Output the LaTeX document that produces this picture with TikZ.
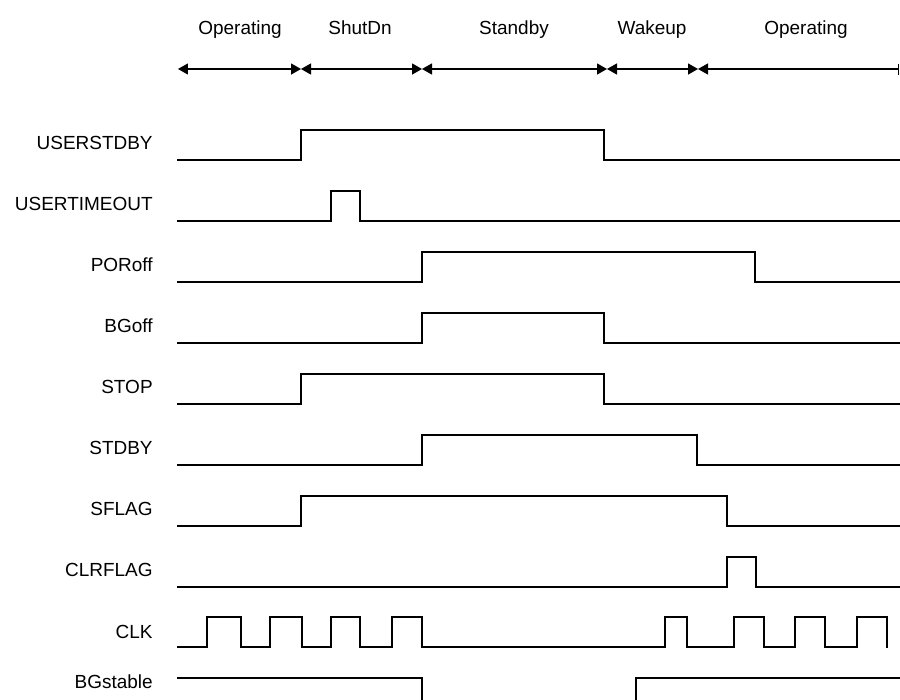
\documentclass[tikz,border=0pt]{standalone}
\usepackage{fontspec}
\setmainfont{Liberation Sans}
\usetikzlibrary{arrows.meta}
\begin{document}
\begin{tikzpicture}[x=0.02cm, y=-0.02cm,
  wave/.style={line width=0.6pt, line join=miter, line cap=rect},
  span/.style={line width=0.75pt, {Triangle[length=0.2cm, width=0.22cm]}-{Triangle[length=0.2cm, width=0.22cm]}},
  spanend/.style={line width=0.75pt, {Triangle[length=0.2cm, width=0.22cm]}-{Bar[width=0.22cm]}},
  lab/.style={font=\fontsize{10.8}{13}\selectfont, inner sep=0pt, anchor=base east},
  phaselab/.style={font=\fontsize{10.8}{13}\selectfont, inner sep=0pt, anchor=base}
]
\useasboundingbox (0,0) rectangle (900,700);

% phase boundaries
\coordinate (t0) at (178,69);
\coordinate (t1) at (301,69);
\coordinate (t2) at (422,69);
\coordinate (t3) at (607,69);
\coordinate (t4) at (698,69);
\coordinate (t5) at (899,69);

% phase names
\node[phaselab] (p1) at (240,34) {Operating};
\node[phaselab] (p2) at (360,34) {ShutDn};
\node[phaselab] (p3) at (514,34) {Standby};
\node[phaselab] (p4) at (652,34) {Wakeup};
\node[phaselab] (p5) at (806,34) {Operating};

% phase extents
\draw[span] (t0) -- (t1);
\draw[span] (t1) -- (t2);
\draw[span] (t2) -- (t3);
\draw[span] (t3) -- (t4);
\draw[spanend] (t4) -- (t5);

% signal names
\node[lab] (nUSERSTDBY)   at (153,149) {USERSTDBY};
\node[lab] (nUSERTIMEOUT) at (153,210) {USERTIMEOUT};
\node[lab] (nPORoff)      at (153,271) {PORoff};
\node[lab] (nBGoff)       at (153,332) {BGoff};
\node[lab] (nSTOP)        at (153,393) {STOP};
\node[lab] (nSTDBY)       at (153,454) {STDBY};
\node[lab] (nSFLAG)       at (153,515) {SFLAG};
\node[lab] (nCLRFLAG)     at (153,576) {CLRFLAG};
\node[lab] (nCLK)         at (153,638) {CLK};
\node[lab] (nBGstable)    at (153,688) {BGstable};

% waveforms
\draw[wave] (178,160) -| (301,130) -| (604,160) -- (899,160);
\draw[wave] (178,221) -| (331,191) -| (360,221) -- (899,221);
\draw[wave] (178,282) -| (422,252) -| (755,282) -- (899,282);
\draw[wave] (178,343) -| (422,313) -| (604,343) -- (899,343);
\draw[wave] (178,404) -| (301,374) -| (604,404) -- (899,404);
\draw[wave] (178,465) -| (422,435) -| (697,465) -- (899,465);
\draw[wave] (178,526) -| (301,496) -| (727,526) -- (899,526);
\draw[wave] (178,587) -| (727,557) -| (756,587) -- (899,587);
\draw[wave] (178,647) -| (207,617) -| (241,647) -| (270,617) -| (302,647)
  -| (331,617) -| (360,647) -| (392,617) -| (422,647) -| (665,617)
  -| (687,647) -| (734,617) -| (764,647) -| (795,617) -| (825,647)
  -| (857,617) -| (887,647);
\draw[wave] (178,678) -| (422,700);
\draw[wave] (636,700) |- (899,678);
\end{tikzpicture}
\end{document}
